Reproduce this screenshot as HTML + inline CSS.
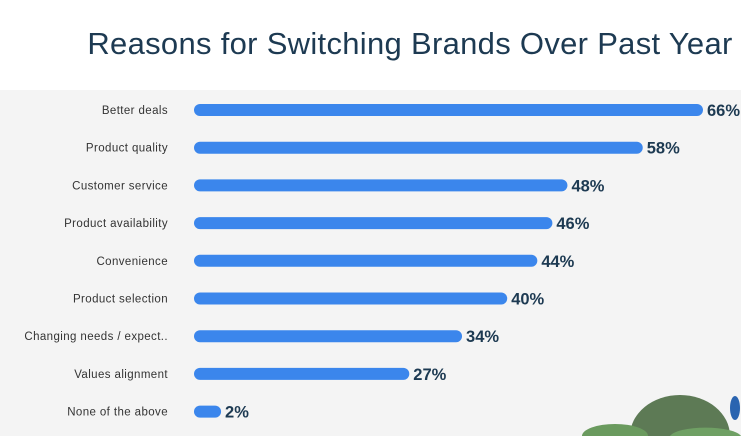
<!DOCTYPE html>
<html><head><meta charset="utf-8"><style>
html,body{margin:0;width:750px;height:436px;overflow:hidden;background:#fff;font-family:"Liberation Sans",sans-serif}
svg{display:block}
</style></head><body>
<svg width="750" height="436">
<text x="410" y="54" text-anchor="middle" font-size="31" letter-spacing="0.3" fill="#1d3a52">Reasons for Switching Brands Over Past Year</text>
<rect x="0" y="90" width="741" height="346" fill="#f4f4f4"/>
<g>
<path d="M630 436 A50 41 0 0 1 730 436 Z" fill="#5d7a55"/>
<path d="M582 436 A33 12 0 0 1 648 436 Z" fill="#6a9a5e"/>
<path d="M670 436 A36 10 0 0 1 741 436 Z" fill="#6fa064"/>
<ellipse cx="735" cy="408" rx="5" ry="12" fill="#2a64b0"/>
</g>
<g id="bars"></g>
</svg>
<script>
const categories=["Better deals","Product quality","Customer service","Product availability","Convenience","Product selection","Changing needs / expect..","Values alignment","None of the above"];
const values=[66,58,48,46,44,40,34,27,2];
const g=document.getElementById('bars');
const ns='http://www.w3.org/2000/svg';
function xEnd(v){return 200+7.53*v;}
function yRow(i){return 110+i*37.7;}
categories.forEach((c,i)=>{
 const y=yRow(i);
 const t=document.createElementNS(ns,'text');
 t.setAttribute('x',168);t.setAttribute('y',y+4);t.setAttribute('text-anchor','end');
 t.setAttribute('font-size','11.5');t.setAttribute('letter-spacing','0.4');t.setAttribute('fill','#333');t.textContent=c;
 
 
 g.appendChild(t);
 const l=document.createElementNS(ns,'line');
 l.setAttribute('x1',200);l.setAttribute('x2',xEnd(values[i]));l.setAttribute('y1',y);l.setAttribute('y2',y);
 l.setAttribute('stroke','#3b86ec');l.setAttribute('stroke-width','12');l.setAttribute('stroke-linecap','round');
 
 
 g.appendChild(l);
 const v=document.createElementNS(ns,'text');
 v.setAttribute('x',xEnd(values[i])+10);v.setAttribute('y',y+6);
 v.setAttribute('font-size','16.5');v.setAttribute('font-weight','bold');v.setAttribute('fill','#1d3a52');
 v.textContent=values[i]+'%';
 
 
 g.appendChild(v);
});
</script>
</body></html>
